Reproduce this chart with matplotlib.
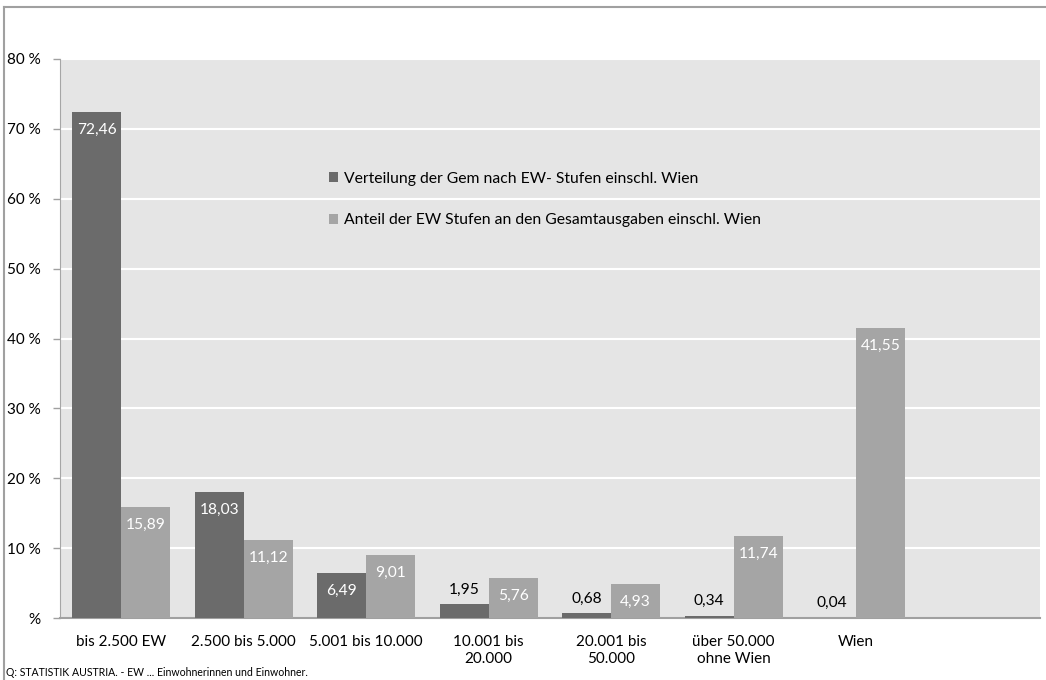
import matplotlib
matplotlib.use("Agg")
import matplotlib.pyplot as plt
import numpy as np
from matplotlib.lines import Line2D

plt.rcParams['font.family'] = ['Lato', 'DejaVu Sans']

categories = ["bis 2.500 EW", "2.500 bis 5.000", "5.001 bis 10.000", "10.001 bis\n20.000",
              "20.001 bis\n50.000", "über 50.000\nohne Wien", "Wien", ""]
series_names = ["Verteilung der Gem nach EW- Stufen einschl. Wien",
                "Anteil der EW Stufen an den Gesamtausgaben einschl. Wien"]
verteilung = [72.46, 18.03, 6.49, 1.95, 0.68, 0.34, 0.04, np.nan]
anteil = [15.89, 11.12, 9.01, 5.76, 4.93, 11.74, 41.55, np.nan]
yticks = [0, 10, 20, 30, 40, 50, 60, 70, 80]
ytick_labels = ["%", "10 %", "20 %", "30 %", "40 %", "50 %", "60 %", "70 %", "80 %"]

dark = "#6b6b6b"
light = "#a5a5a5"
bg = "#e5e5e5"

fig = plt.figure(figsize=(10.46, 6.80), dpi=100)
ax = fig.add_axes([60/1046, 1-618/680, 980/1046, (618-59)/680])
ax.set_facecolor(bg)

x = np.arange(len(categories))
w = 0.4
b1 = ax.bar(x - w/2, verteilung, width=w, color=dark, zorder=3)
b2 = ax.bar(x + w/2, anteil, width=w, color=light, zorder=3)

ax.set_xlim(-0.5, len(categories) - 0.5)
ax.set_ylim(0, 80)
ax.set_yticks(yticks)
ax.set_yticklabels(ytick_labels)
ax.set_xticks(x)
ax.set_xticklabels(categories)
for t in ax.get_xticklabels():
    t.set_linespacing(1.3)
ax.tick_params(axis='x', length=0, pad=12, labelsize=11)
ax.tick_params(axis='y', length=5, width=1, color="#a0a0a0", pad=9, labelsize=11)
ax.yaxis.grid(True, color="white", linewidth=1.5, zorder=1)
ax.set_axisbelow(True)
for s in ["top", "right"]:
    ax.spines[s].set_visible(False)
ax.spines["left"].set_color("#a6a6a6")
ax.spines["bottom"].set_color("#a0a0a0")
ax.spines["bottom"].set_linewidth(1.5)

def fmt(v):
    return f"{v:.2f}".replace(".", ",")

for bars, vals in ((b1, verteilung), (b2, anteil)):
    for rect, v in zip(bars, vals):
        if np.isnan(v):
            continue
        cx = rect.get_x() + rect.get_width()/2
        if v >= 4:
            ax.annotate(fmt(v), (cx, v), xytext=(0, -13), textcoords="offset points",
                        ha="center", va="center", color="white", fontsize=11.2, zorder=4)
        else:
            ax.annotate(fmt(v), (cx, v), xytext=(0, 10.5), textcoords="offset points",
                        ha="center", va="center", color="black", fontsize=11.2, zorder=4)

leg = ax.legend([b1, b2], series_names, loc="upper left",
                bbox_to_anchor=(329/1046, 1-172/680), bbox_transform=fig.transFigure,
                frameon=False, fontsize=11.3, handlelength=0.6, handleheight=0.6,
                handletextpad=0.35, labelspacing=1.75, borderpad=0, borderaxespad=0)

# outer frame (partially cropped)
fig.add_artist(Line2D([4/1046, 1], [1-7/680, 1-7/680], transform=fig.transFigure,
                      color="#a0a0a0", linewidth=1.5))
fig.add_artist(Line2D([4/1046, 4/1046], [0, 1-7/680], transform=fig.transFigure,
                      color="#a0a0a0", linewidth=1.5))

fig.text(6/1046, 1-673/680, "Q: STATISTIK AUSTRIA. - EW ... Einwohnerinnen und Einwohner.",
         fontsize=7.6, ha="left", va="center", color="black")

fig.savefig("out.png", dpi=100)
